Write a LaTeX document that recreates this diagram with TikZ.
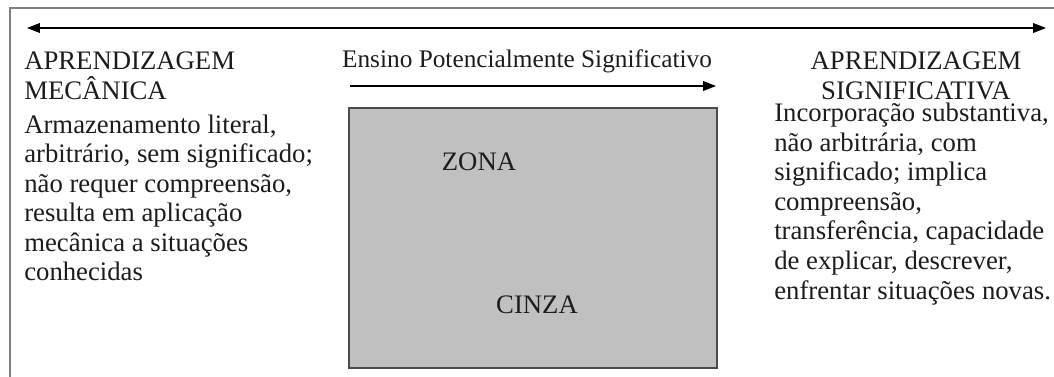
\documentclass[tikz,border=0pt]{standalone}
\usepackage{fontspec}
\setmainfont{Liberation Serif}
\usetikzlibrary{arrows.meta, positioning}
\definecolor{CZone}{HTML}{C0C0C0}
\definecolor{CFrame}{HTML}{808080}
\definecolor{CText}{HTML}{1C1C1C}

\begin{document}
\begin{tikzpicture}[x=0.025cm, y=-0.025cm,
    txt/.style={font=\fontsize{19}{21}\selectfont, text=CText, inner sep=0pt},
    tip/.style={-{Triangle[length=0.32cm, width=0.24cm]}, line width=1pt}]
    \useasboundingbox (0,0) rectangle (1054,376);

    % Frame (runs off the right and bottom edges)
    \draw[CFrame, line width=0.8pt] (10,400) -- (10,8) -- (1090,8);

    % Long double arrow
    \coordinate (arrL) at (27,28);
    \coordinate (arrR) at (1046,28);
    \draw[tip, {Triangle[length=0.32cm, width=0.24cm]}-{Triangle[length=0.32cm, width=0.24cm]}] (arrL) -- (arrR);

    % Left side
    \node[txt, align=left, anchor=north west] (mecTitle) at (24,52) {APRENDIZAGEM\\MECÂNICA};
    \node[txt, align=left, below right=0.36cm and 0cm of mecTitle.south west] (mecText)
        {Armazenamento literal,\\arbitrário, sem significado;\\não requer compreensão,\\resulta em aplicação\\mecânica a situações\\conhecidas};

    % Middle
    \node[txt, font=\fontsize{18}{21}\selectfont] (ensino) at (527,61) {Ensino Potencialmente Significativo};
    \coordinate (ensL) at (350,86);
    \coordinate (ensR) at (716,86);
    \draw[tip] (ensL) -- (ensR);

    \node[fill=CZone, draw=black!70, line width=0.8pt, minimum width=368*0.025cm,
        minimum height=260*0.025cm, inner sep=0pt] (zone) at (533,238) {};
    \node[txt] (zona) at (479,162) {ZONA};
    \node[txt] (cinza) at (537,305) {CINZA};

    % Right side
    \node[txt, align=center] (sigTitle) at (916,76) {APRENDIZAGEM\\SIGNIFICATIVA};
    \node[txt, align=left, anchor=north west] (sigText) at (774,103)
        {Incorporação substantiva,\\não arbitrária, com\\significado; implica\\compreensão,\\transferência, capacidade\\de explicar, descrever,\\enfrentar situações novas.};
\end{tikzpicture}
\end{document}
